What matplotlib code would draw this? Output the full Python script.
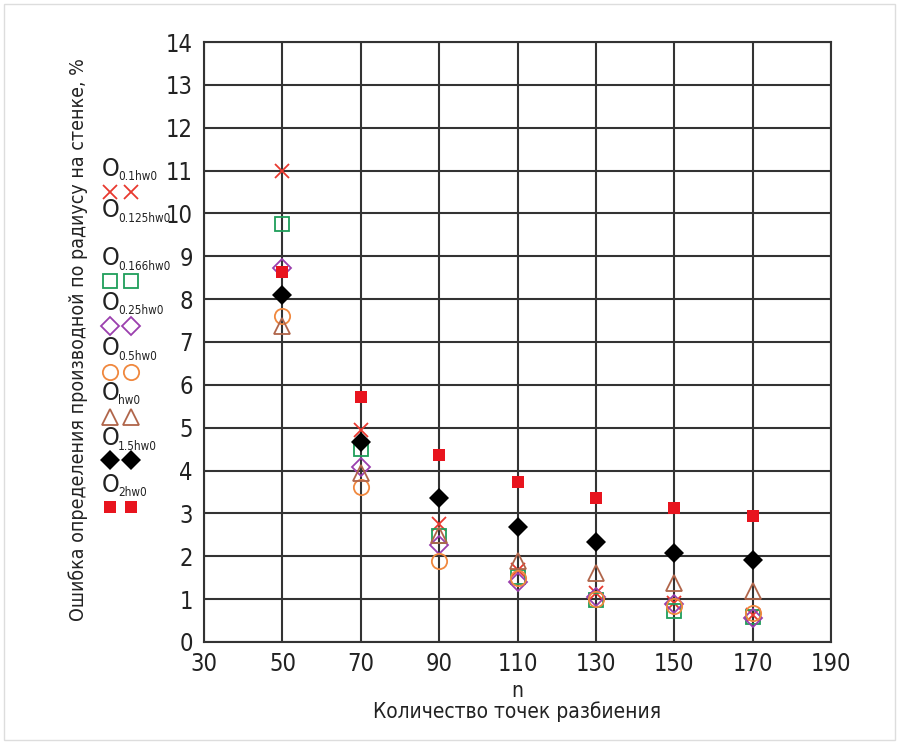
import matplotlib
matplotlib.use('Agg')
import matplotlib.pyplot as plt
from matplotlib.patches import Rectangle

plt.rcParams['font.family'] = ['DejaVu Sans']
plt.rcParams['font.stretch'] = 'condensed'

# точки разбиения
n = [50, 70, 90, 110, 130, 150, 170]

# ошибка, %
err_01 = [11.0, 4.95, 2.75, 1.68, 1.14, 0.9, 0.62]
err_0166 = [9.75, 4.5, 2.48, 1.52, 0.97, 0.72, 0.58]
err_025 = [8.73, 4.08, 2.26, 1.4, 1.05, 0.89, 0.56]
err_05 = [7.6, 3.62, 1.9, 1.5, 1.0, 0.85, 0.68]
err_1 = [7.37, 3.95, 2.5, 1.9, 1.62, 1.37, 1.2]
err_15 = [8.1, 4.67, 3.37, 2.69, 2.34, 2.08, 1.91]
err_2 = [8.63, 5.72, 4.36, 3.73, 3.37, 3.13, 2.94]

x_ticks = [30, 50, 70, 90, 110, 130, 150, 170, 190]
y_ticks = list(range(0, 15))

# стиль маркеров: (данные, маркер, цвет, заливка, размер, подпись)
series = [
    (err_01, 'x', '#e8392f', False, 10, '0.1hw0'),
    (None, None, None, False, 0, '0.125hw0'),
    (err_0166, 's', '#1f9e5a', False, 10, '0.166hw0'),
    (err_025, 'D', '#9b3fae', False, 9, '0.25hw0'),
    (err_05, 'o', '#f0883e', False, 11, '0.5hw0'),
    (err_1, '^', '#b0654a', False, 12, 'hw0'),
    (err_15, 'D', '#000000', True, 10, '1.5hw0'),
    (err_2, 's', '#e8141e', True, 9, '2hw0'),
]

fig = plt.figure(figsize=(9, 7.45), dpi=100)
ax = fig.add_axes([0.2267, 0.1383, 0.6966, 0.8053])

for data, m, c, filled, ms, lab in series:
    if data is None:
        continue
    if m == 'x':
        ax.plot(n, data, ls='none', marker=m, color=c, ms=ms, mew=1.3, zorder=3)
    elif filled:
        ax.plot(n, data, ls='none', marker=m, color=c, ms=ms, mew=0, zorder=4)
    else:
        ax.plot(n, data, ls='none', marker=m, mfc='none', mec=c, ms=ms, mew=1.3, zorder=3)

ax.set_xlim(30, 190)
ax.set_ylim(0, 14)
ax.set_xticks(x_ticks)
ax.set_yticks(y_ticks)
ax.tick_params(length=0, labelsize=17, colors='#222222')
ax.tick_params(axis='y', pad=8)
ax.tick_params(axis='x', pad=7)
ax.grid(True, color='#333333', lw=1.5, zorder=1)
ax.set_axisbelow(True)
for s in ax.spines.values():
    s.set_color('#333333')
    s.set_linewidth(1.5)

ax.set_xlabel('n\nКоличество точек разбиения', fontsize=15, linespacing=1.0, labelpad=4, color='#222222')
fig.text(0.0867, 0.5436, 'Ошибка определения производной по радиусу на стенке, %',
         rotation=90, ha='center', va='center', fontsize=14, color='#222222')

# легенда в пиксельных координатах
lax = fig.add_axes([0, 0, 1, 1])
lax.set_xlim(0, 900)
lax.set_ylim(745, 0)
lax.axis('off')

o_y = [169, 210, 258, 303, 348, 393, 438, 485]
m_y = [192, None, 281, 326, 372, 417, 460, 507]
for (data, m, c, filled, ms, lab), oy, my in zip(series, o_y, m_y):
    lax.text(102, oy, 'O', fontsize=18, ha='left', va='center', color='#222222')
    lax.text(118, oy + 8, lab, fontsize=8.5, ha='left', va='center', color='#222222')
    if my is None:
        continue
    for mx in (110, 131):
        if m == 'x':
            lax.plot(mx, my, marker=m, color=c, ms=ms, mew=1.3)
        elif filled:
            lax.plot(mx, my, marker=m, color=c, ms=ms, mew=0)
        else:
            lax.plot(mx, my, marker=m, mfc='none', mec=c, ms=ms, mew=1.3)

lax.add_patch(Rectangle((4, 4), 891, 736, fill=False, ec='#dddddd', lw=1))

fig.savefig('out.png', dpi=100)
